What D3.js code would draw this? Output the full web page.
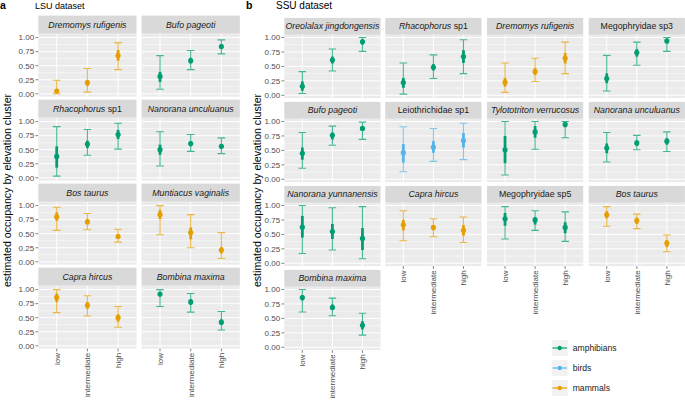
<!DOCTYPE html>
<html><head><meta charset="utf-8">
<script src="https://cdn.jsdelivr.net/npm/d3@7"></script>
<style>body{margin:0;background:#fff} svg{display:block;font-family:"Liberation Sans",Arial,Helvetica,sans-serif}</style>
</head><body><svg id="c" width="685" height="401"></svg>
<script>
const elevation = ["low","intermediate","high"];
const groups = ["amphibians","birds","mammals"];
const groupColors = ["#009E73","#56B4E9","#E69F00"];
const yTicks = [0,0.25,0.5,0.75,1];
const yMinor = [0.125,0.375,0.625,0.875];
const yTickLabels = ["0.00","0.25","0.50","0.75","1.00"];

// LSU dataset
const lsuSpecies = ["Dremomys rufigenis","Bufo pageoti","Rhacophorus sp1","Nanorana unculuanus","Bos taurus","Muntiacus vaginalis","Capra hircus","Bombina maxima"];
const lsuGroup = ["mammals","amphibians","amphibians","amphibians","mammals","mammals","mammals","amphibians"];
const lsuMean  = [[0.05,0.20,0.68],[0.31,0.59,0.84],[0.38,0.60,0.77],[0.50,0.61,0.56],[0.80,0.71,0.45],[0.84,0.52,0.21],[0.86,0.72,0.50],[0.92,0.78,0.42]];
const lsuLow95 = [[0.00,0.03,0.43],[0.08,0.43,0.71],[0.03,0.40,0.51],[0.21,0.47,0.43],[0.56,0.57,0.35],[0.48,0.25,0.06],[0.59,0.53,0.33],[0.70,0.60,0.28]];
const lsuHigh95= [[0.24,0.45,0.91],[0.68,0.77,0.96],[0.91,0.86,0.97],[0.82,0.77,0.71],[0.97,0.86,0.58],[1.00,0.84,0.52],[1.00,0.89,0.70],[1.00,0.93,0.61]];
const lsuLow50 = [[0.01,0.14,0.59],[0.21,0.54,0.80],[0.18,0.53,0.69],[0.41,0.56,0.52],[0.73,0.67,0.41],[0.76,0.40,0.15],[0.78,0.66,0.43],[0.88,0.73,0.37]];
const lsuHigh50= [[0.08,0.24,0.78],[0.39,0.64,0.88],[0.56,0.66,0.85],[0.59,0.65,0.60],[0.88,0.76,0.49],[0.92,0.61,0.26],[0.93,0.78,0.56],[0.95,0.83,0.47]];

// SSU dataset
const ssuSpecies = ["Oreolalax jingdongensis","Rhacophorus sp1","Dremomys rufigenis","Megophryidae sp3","Bufo pageoti","Leiothrichidae sp1","Tylototriton verrucosus","Nanorana unculuanus","Nanorana yunnanensis","Capra hircus","Megophryidae sp5","Bos taurus","Bombina maxima"];
const ssuGroup = ["amphibians","amphibians","mammals","amphibians","amphibians","birds","amphibians","amphibians","amphibians","mammals","amphibians","mammals","amphibians"];
const ssuMean  = [[0.155,0.61,0.925],[0.22,0.485,0.67],[0.225,0.41,0.64],[0.29,0.74,0.94],[0.45,0.76,0.88],[0.46,0.555,0.67],[0.51,0.82,0.95],[0.54,0.63,0.66],[0.625,0.55,0.43],[0.665,0.62,0.57],[0.77,0.75,0.62],[0.84,0.74,0.35],[0.86,0.69,0.38]];
const ssuLow95 = [[0.03,0.42,0.76],[0.02,0.29,0.375],[0.05,0.24,0.375],[0.075,0.52,0.76],[0.19,0.59,0.69],[0.13,0.31,0.34],[0.075,0.52,0.72],[0.30,0.51,0.48],[0.17,0.23,0.08],[0.39,0.46,0.36],[0.42,0.57,0.38],[0.64,0.60,0.20],[0.61,0.545,0.21]];
const ssuHigh95= [[0.41,0.80,1.0],[0.56,0.70,0.96],[0.56,0.64,0.92],[0.69,0.92,1.0],[0.81,0.92,0.99],[0.91,0.88,0.97],[1.0,1.0,1.0],[0.81,0.76,0.82],[1.0,0.96,0.98],[0.91,0.77,0.80],[0.98,0.91,0.89],[0.98,0.85,0.49],[1.0,0.85,0.59]];
const ssuLow50 = [[0.08,0.55,0.88],[0.13,0.43,0.56],[0.15,0.35,0.55],[0.21,0.67,0.90],[0.34,0.69,0.84],[0.29,0.46,0.55],[0.28,0.72,0.90],[0.45,0.58,0.60],[0.445,0.42,0.23],[0.57,0.57,0.48],[0.65,0.67,0.52],[0.78,0.68,0.28],[0.81,0.65,0.31]];
const ssuHigh50= [[0.24,0.67,0.97],[0.30,0.54,0.78],[0.30,0.47,0.73],[0.38,0.80,0.97],[0.55,0.81,0.92],[0.61,0.66,0.80],[0.75,0.92,0.98],[0.62,0.67,0.71],[0.82,0.68,0.61],[0.75,0.66,0.66],[0.87,0.80,0.71],[0.90,0.79,0.40],[0.90,0.74,0.45]];

const color = d3.scaleOrdinal().domain(groups).range(groupColors);
const svg = d3.select("#c");

function isUpright(word){ return /idae$/.test(word) || /^sp\d+$/.test(word); }

function drawSection(cfg){
  const g = svg.append("g");
  const n = cfg.species.length;
  for(let i=0;i<n;i++){
    const r = Math.floor(i/cfg.ncol), c = i % cfg.ncol;
    const left = cfg.colLeft[c], right = left + cfg.colWidth;
    const y1 = cfg.rowTop1 + cfg.rowStep*r;        // pixel of 1.00
    const y0 = y1 + cfg.unit;                       // pixel of 0.00
    const y = d3.scaleLinear().domain([0,1]).range([y0,y1]);
    const x = d3.scalePoint().domain(elevation).range([left,right]).padding(0.6);
    const pTop = y(1) - cfg.padTop, pBot = y(0) + cfg.padBot;
    const p = g.append("g");
    // panel background
    p.append("rect").attr("x",left).attr("y",pTop).attr("width",cfg.colWidth).attr("height",pBot-pTop).attr("fill","#EBEBEB");
    p.selectAll(".mn").data(yMinor).join("line").attr("x1",left).attr("x2",right)
      .attr("y1",d=>y(d)).attr("y2",d=>y(d)).attr("stroke","#fff").attr("stroke-width",0.5);
    p.selectAll(".mj").data(yTicks).join("line").attr("x1",left).attr("x2",right)
      .attr("y1",d=>y(d)).attr("y2",d=>y(d)).attr("stroke","#fff").attr("stroke-width",1);
    p.selectAll(".vx").data(elevation).join("line").attr("y1",pTop).attr("y2",pBot)
      .attr("x1",d=>x(d)).attr("x2",d=>x(d)).attr("stroke","#fff").attr("stroke-width",1);
    // strip
    const sTop = pTop - cfg.stripH;
    p.append("rect").attr("x",left).attr("y",sTop).attr("width",cfg.colWidth).attr("height",cfg.stripH).attr("fill","#D9D9D9");
    const st = p.append("text").attr("x",(left+right)/2).attr("y",sTop+cfg.stripH/2+3.1)
      .attr("text-anchor","middle").attr("font-size",cfg.stripFont).attr("fill","#1A1A1A");
    cfg.species[i].split(" ").forEach((w,k)=>{
      st.append("tspan").text((k>0?" ":"")+w).attr("font-style",isUpright(w)?"normal":"italic");
    });
    // y axis
    if(c===0){
      const ya = p.append("g");
      ya.selectAll("line").data(yTicks).join("line").attr("x1",left-2.8).attr("x2",left)
        .attr("y1",d=>y(d)).attr("y2",d=>y(d)).attr("stroke","#333").attr("stroke-width",0.6);
      ya.selectAll("text").data(yTicks).join("text").attr("x",left-4.2).attr("y",d=>y(d)+2.8)
        .attr("text-anchor","end").attr("font-size",cfg.tickFont).attr("fill","#4D4D4D").text((d,k)=>yTickLabels[k]);
    }
    // x axis if nothing below
    if(i + cfg.ncol >= n){
      const xa = p.append("g");
      xa.selectAll("line").data(elevation).join("line").attr("y1",pBot).attr("y2",pBot+2.8)
        .attr("x1",d=>x(d)).attr("x2",d=>x(d)).attr("stroke","#333").attr("stroke-width",0.6);
      xa.selectAll("text").data(elevation).join("text")
        .attr("transform",d=>`translate(${x(d)+2.9},${pBot+4.3}) rotate(-90)`)
        .attr("text-anchor","end").attr("font-size",cfg.tickFont).attr("fill","#4D4D4D").text(d=>d);
    }
    // marks
    const col = color(cfg.group[i]);
    const rows = elevation.map((e,k)=>({e, m:cfg.mean[i][k], lo:cfg.low95[i][k], hi:cfg.high95[i][k], lo5:cfg.low50[i][k], hi5:cfg.high50[i][k]}));
    const cap = x.step()*0.125;
    const mk = p.append("g");
    mk.selectAll(".eb").data(rows).join("path")
      .attr("d",d=>`M${x(d.e)-cap},${y(d.hi)}H${x(d.e)+cap}M${x(d.e)},${y(d.hi)}V${y(d.lo)}M${x(d.e)-cap},${y(d.lo)}H${x(d.e)+cap}`)
      .attr("fill","none").attr("stroke",col).attr("stroke-opacity",0.72).attr("stroke-width",1.1);
    mk.selectAll(".th").data(rows).join("line").attr("x1",d=>x(d.e)).attr("x2",d=>x(d.e))
      .attr("y1",d=>y(d.hi5)).attr("y2",d=>y(d.lo5)).attr("stroke",col).attr("stroke-width",2.8);
    mk.selectAll("circle").data(rows).join("circle").attr("cx",d=>x(d.e)).attr("cy",d=>y(d.m))
      .attr("r",2.6).attr("fill",col);
  }
  // title
  svg.append("text").attr("transform",`translate(${cfg.titleX},190.5) rotate(-90)`).attr("text-anchor","middle")
    .attr("font-size",10.6).attr("fill","#000").text("estimated occupancy by elevation cluster");
  svg.append("text").attr("x",cfg.tagX).attr("y",9.2).attr("font-size",10.5).attr("font-weight","bold").text(cfg.tag);
  svg.append("text").attr("x",cfg.headX).attr("y",9).attr("font-size",cfg.headFont).attr("fill","#000").text(cfg.head);
}

drawSection({species:lsuSpecies, group:lsuGroup, mean:lsuMean, low95:lsuLow95, high95:lsuHigh95, low50:lsuLow50, high50:lsuHigh50,
  ncol:2, colLeft:[38.3,141.6], colWidth:98.2, rowTop1:37.6, rowStep:84, unit:56.2, padTop:4, padBot:2.8, stripH:18,
  stripFont:8.8, tickFont:8, titleX:11.2, tag:"a", tagX:0, head:"LSU dataset", headX:35, headFont:9});

drawSection({species:ssuSpecies, group:ssuGroup, mean:ssuMean, low95:ssuLow95, high95:ssuHigh95, low50:ssuLow50, high50:ssuHigh50,
  ncol:4, colLeft:[284.3,385.3,487,588.7], colWidth:96.2, rowTop1:37.5, rowStep:84, unit:57.8, padTop:2.8, padBot:2.8, stripH:16.8,
  stripFont:8.8, tickFont:8, titleX:261, tag:"b", tagX:246, head:"SSU dataset", headX:276, headFont:10});

// legend
const lg = svg.append("g");
groups.forEach((gname,k)=>{
  const ty = 340 + k*20;
  lg.append("rect").attr("x",551.7).attr("y",ty).attr("width",16).attr("height",16).attr("fill","#F2F2F2");
  lg.append("line").attr("x1",552.5).attr("x2",567).attr("y1",ty+8).attr("y2",ty+8)
    .attr("stroke",color(gname)).attr("stroke-opacity",0.6).attr("stroke-width",2);
  lg.append("circle").attr("cx",559.7).attr("cy",ty+8).attr("r",2.2).attr("fill",color(gname));
  lg.append("text").attr("x",572.7).attr("y",ty+11).attr("font-size",8.6).attr("fill","#1A1A1A").text(gname);
});
</script></body></html>
